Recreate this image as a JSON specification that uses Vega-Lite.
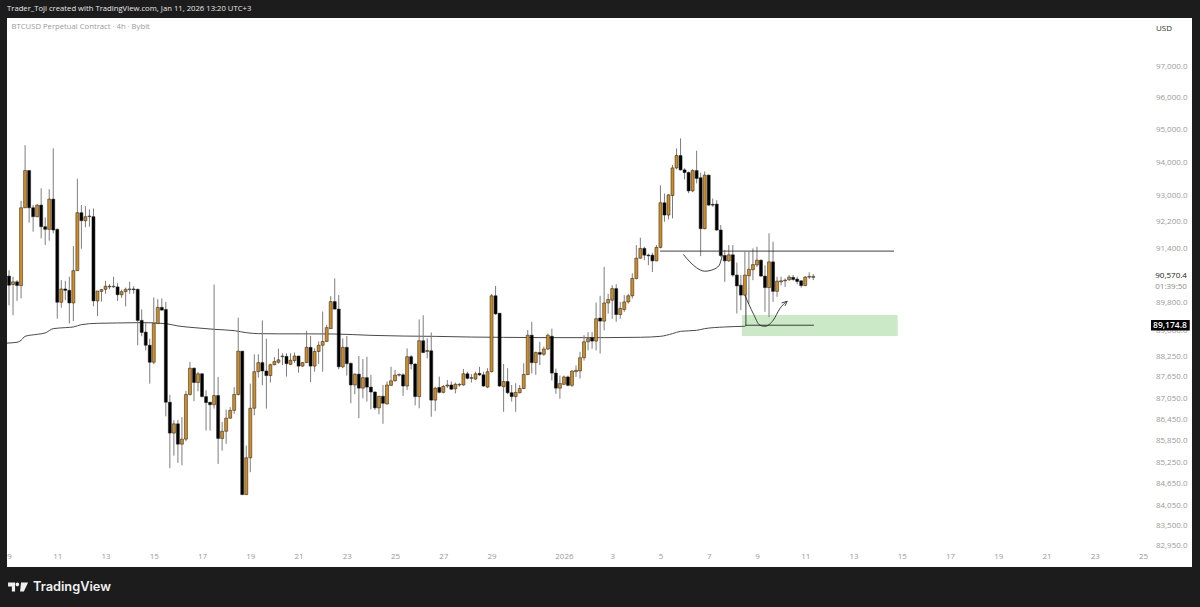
{
"$schema":"https://vega.github.io/schema/vega-lite/v6.json",
"autosize":{"type":"none"},
"width":1185,"height":549,
"padding":{"left":7,"top":18,"right":8,"bottom":40},
"background":"#1c1c1c",
"view":{"fill":"#ffffff","stroke":null},
"datasets":{
"candles":[
{"t":"2025-12-09T00:00Z","o":90580,"h":90750,"l":89720,"c":90310},
{"t":"2025-12-09T04:00Z","o":90330,"h":90560,"l":89430,"c":90410},
{"t":"2025-12-09T08:00Z","o":90410,"h":90460,"l":89850,"c":90300},
{"t":"2025-12-09T12:00Z","o":90300,"h":92830,"l":89920,"c":92620},
{"t":"2025-12-09T16:00Z","o":92620,"h":94530,"l":92620,"c":93750},
{"t":"2025-12-09T20:00Z","o":93750,"h":93770,"l":92170,"c":92620},
{"t":"2025-12-10T00:00Z","o":92620,"h":92700,"l":91900,"c":92350},
{"t":"2025-12-10T04:00Z","o":92350,"h":92730,"l":92330,"c":92700},
{"t":"2025-12-10T08:00Z","o":92700,"h":93210,"l":91700,"c":92050},
{"t":"2025-12-10T12:00Z","o":92050,"h":92330,"l":91500,"c":91970},
{"t":"2025-12-10T16:00Z","o":91970,"h":93180,"l":91630,"c":92880},
{"t":"2025-12-10T20:00Z","o":92880,"h":94430,"l":91850,"c":91950},
{"t":"2025-12-11T00:00Z","o":91970,"h":92000,"l":89330,"c":89810},
{"t":"2025-12-11T04:00Z","o":89810,"h":90460,"l":89650,"c":90200},
{"t":"2025-12-11T08:00Z","o":90200,"h":90440,"l":89870,"c":90160},
{"t":"2025-12-11T12:00Z","o":90160,"h":90560,"l":89190,"c":89790},
{"t":"2025-12-11T16:00Z","o":89790,"h":91470,"l":89260,"c":90740},
{"t":"2025-12-11T20:00Z","o":90740,"h":93500,"l":90740,"c":92470},
{"t":"2025-12-12T00:00Z","o":92470,"h":92700,"l":91390,"c":92230},
{"t":"2025-12-12T04:00Z","o":92230,"h":92670,"l":92030,"c":92350},
{"t":"2025-12-12T08:00Z","o":92350,"h":92570,"l":92050,"c":92370},
{"t":"2025-12-12T12:00Z","o":92350,"h":92600,"l":89690,"c":89850},
{"t":"2025-12-12T16:00Z","o":89850,"h":90140,"l":89410,"c":90140},
{"t":"2025-12-12T20:00Z","o":90130,"h":90200,"l":89830,"c":90180},
{"t":"2025-12-13T00:00Z","o":90190,"h":90440,"l":90060,"c":90280},
{"t":"2025-12-13T04:00Z","o":90260,"h":90340,"l":90190,"c":90280},
{"t":"2025-12-13T08:00Z","o":90260,"h":90560,"l":90240,"c":90280},
{"t":"2025-12-13T12:00Z","o":90260,"h":90380,"l":89850,"c":90030},
{"t":"2025-12-13T16:00Z","o":90030,"h":90180,"l":89940,"c":90120},
{"t":"2025-12-13T20:00Z","o":90120,"h":90240,"l":89690,"c":90190},
{"t":"2025-12-14T00:00Z","o":90180,"h":90410,"l":90060,"c":90200},
{"t":"2025-12-14T04:00Z","o":90200,"h":90280,"l":90060,"c":90180},
{"t":"2025-12-14T08:00Z","o":90190,"h":90210,"l":88560,"c":89280},
{"t":"2025-12-14T12:00Z","o":89280,"h":89600,"l":88820,"c":88930},
{"t":"2025-12-14T16:00Z","o":88940,"h":89240,"l":88410,"c":88560},
{"t":"2025-12-14T20:00Z","o":88560,"h":88750,"l":87460,"c":88070},
{"t":"2025-12-15T00:00Z","o":88070,"h":89950,"l":88010,"c":89190},
{"t":"2025-12-15T04:00Z","o":89190,"h":89900,"l":89170,"c":89660},
{"t":"2025-12-15T08:00Z","o":89660,"h":89920,"l":89560,"c":89580},
{"t":"2025-12-15T12:00Z","o":89600,"h":89820,"l":86530,"c":86930},
{"t":"2025-12-15T16:00Z","o":86930,"h":87140,"l":85080,"c":86060},
{"t":"2025-12-15T20:00Z","o":86060,"h":86420,"l":85430,"c":86320},
{"t":"2025-12-16T00:00Z","o":86320,"h":86430,"l":85230,"c":85750},
{"t":"2025-12-16T04:00Z","o":85750,"h":86510,"l":85160,"c":85890},
{"t":"2025-12-16T08:00Z","o":85890,"h":87250,"l":85830,"c":87150},
{"t":"2025-12-16T12:00Z","o":87150,"h":88080,"l":87120,"c":87900},
{"t":"2025-12-16T16:00Z","o":87900,"h":87920,"l":86960,"c":87490},
{"t":"2025-12-16T20:00Z","o":87490,"h":87790,"l":87240,"c":87740},
{"t":"2025-12-17T00:00Z","o":87740,"h":87760,"l":87070,"c":87090},
{"t":"2025-12-17T04:00Z","o":87090,"h":87270,"l":86130,"c":86920},
{"t":"2025-12-17T08:00Z","o":86930,"h":86930,"l":86130,"c":86860},
{"t":"2025-12-17T12:00Z","o":86860,"h":90330,"l":86750,"c":87120},
{"t":"2025-12-17T16:00Z","o":87120,"h":87650,"l":85200,"c":85910},
{"t":"2025-12-17T20:00Z","o":85910,"h":86370,"l":85570,"c":86110},
{"t":"2025-12-18T00:00Z","o":86110,"h":86720,"l":85760,"c":86480},
{"t":"2025-12-18T04:00Z","o":86480,"h":86790,"l":86460,"c":86700},
{"t":"2025-12-18T08:00Z","o":86700,"h":87360,"l":86600,"c":87150},
{"t":"2025-12-18T12:00Z","o":87150,"h":89360,"l":87120,"c":88390},
{"t":"2025-12-18T16:00Z","o":88390,"h":88390,"l":84350,"c":84350},
{"t":"2025-12-18T20:00Z","o":84350,"h":85710,"l":84350,"c":85370},
{"t":"2025-12-19T00:00Z","o":85370,"h":87460,"l":84970,"c":86760},
{"t":"2025-12-19T04:00Z","o":86760,"h":88300,"l":86560,"c":87800},
{"t":"2025-12-19T08:00Z","o":87800,"h":88300,"l":87630,"c":88060},
{"t":"2025-12-19T12:00Z","o":88060,"h":89280,"l":87410,"c":87820},
{"t":"2025-12-19T16:00Z","o":87820,"h":88750,"l":86750,"c":87690},
{"t":"2025-12-19T20:00Z","o":87690,"h":88030,"l":87490,"c":88000},
{"t":"2025-12-20T00:00Z","o":88000,"h":88220,"l":87980,"c":88090},
{"t":"2025-12-20T04:00Z","o":88070,"h":88460,"l":88030,"c":88140},
{"t":"2025-12-20T08:00Z","o":88230,"h":88330,"l":87990,"c":88250},
{"t":"2025-12-20T12:00Z","o":88240,"h":88330,"l":87660,"c":88030},
{"t":"2025-12-20T16:00Z","o":88010,"h":88330,"l":87990,"c":88130},
{"t":"2025-12-20T20:00Z","o":88120,"h":88350,"l":88050,"c":88250},
{"t":"2025-12-21T00:00Z","o":88250,"h":88250,"l":87770,"c":87960},
{"t":"2025-12-21T04:00Z","o":87960,"h":88080,"l":87940,"c":88060},
{"t":"2025-12-21T08:00Z","o":88060,"h":88980,"l":88060,"c":88500},
{"t":"2025-12-21T12:00Z","o":88500,"h":88830,"l":87500,"c":87960},
{"t":"2025-12-21T16:00Z","o":87960,"h":88470,"l":87800,"c":88380},
{"t":"2025-12-21T20:00Z","o":88380,"h":88670,"l":88020,"c":88560},
{"t":"2025-12-22T00:00Z","o":88560,"h":89540,"l":87800,"c":88670},
{"t":"2025-12-22T04:00Z","o":88670,"h":89150,"l":88650,"c":89070},
{"t":"2025-12-22T08:00Z","o":89040,"h":89990,"l":89040,"c":89830},
{"t":"2025-12-22T12:00Z","o":89830,"h":90510,"l":89600,"c":89610},
{"t":"2025-12-22T16:00Z","o":89610,"h":90020,"l":87870,"c":87940},
{"t":"2025-12-22T20:00Z","o":87940,"h":88760,"l":87900,"c":88500},
{"t":"2025-12-23T00:00Z","o":88500,"h":88830,"l":87690,"c":88030},
{"t":"2025-12-23T04:00Z","o":88040,"h":88060,"l":86900,"c":87420},
{"t":"2025-12-23T08:00Z","o":87420,"h":87750,"l":87160,"c":87730},
{"t":"2025-12-23T12:00Z","o":87730,"h":88250,"l":86480,"c":87330},
{"t":"2025-12-23T16:00Z","o":87330,"h":88160,"l":87040,"c":87630},
{"t":"2025-12-23T20:00Z","o":87630,"h":88230,"l":86950,"c":87360},
{"t":"2025-12-24T00:00Z","o":87360,"h":87710,"l":86730,"c":87220},
{"t":"2025-12-24T04:00Z","o":87220,"h":87240,"l":86710,"c":86770},
{"t":"2025-12-24T08:00Z","o":86770,"h":87110,"l":86590,"c":87100},
{"t":"2025-12-24T12:00Z","o":87100,"h":87420,"l":86320,"c":86900},
{"t":"2025-12-24T16:00Z","o":86880,"h":87520,"l":86870,"c":87420},
{"t":"2025-12-24T20:00Z","o":87410,"h":87940,"l":87390,"c":87540},
{"t":"2025-12-25T00:00Z","o":87540,"h":87850,"l":87520,"c":87700},
{"t":"2025-12-25T04:00Z","o":87700,"h":87750,"l":87660,"c":87720},
{"t":"2025-12-25T08:00Z","o":87710,"h":87750,"l":87110,"c":87390},
{"t":"2025-12-25T12:00Z","o":87390,"h":88470,"l":87280,"c":88230},
{"t":"2025-12-25T16:00Z","o":88230,"h":88280,"l":87870,"c":88020},
{"t":"2025-12-25T20:00Z","o":88020,"h":88040,"l":86840,"c":87090},
{"t":"2025-12-26T00:00Z","o":87090,"h":89310,"l":86760,"c":88690},
{"t":"2025-12-26T04:00Z","o":88690,"h":89430,"l":88330,"c":88350},
{"t":"2025-12-26T08:00Z","o":88380,"h":88760,"l":88180,"c":88410},
{"t":"2025-12-26T12:00Z","o":88400,"h":88930,"l":86520,"c":86990},
{"t":"2025-12-26T16:00Z","o":86990,"h":87370,"l":86680,"c":87330},
{"t":"2025-12-26T20:00Z","o":87350,"h":87660,"l":87180,"c":87210},
{"t":"2025-12-27T00:00Z","o":87210,"h":87420,"l":87180,"c":87380},
{"t":"2025-12-27T04:00Z","o":87390,"h":87560,"l":87330,"c":87420},
{"t":"2025-12-27T08:00Z","o":87420,"h":87520,"l":87280,"c":87300},
{"t":"2025-12-27T12:00Z","o":87310,"h":87490,"l":87180,"c":87440},
{"t":"2025-12-27T16:00Z","o":87420,"h":87470,"l":87370,"c":87440},
{"t":"2025-12-27T20:00Z","o":87420,"h":87880,"l":87400,"c":87740},
{"t":"2025-12-28T00:00Z","o":87740,"h":87800,"l":87580,"c":87610},
{"t":"2025-12-28T04:00Z","o":87610,"h":87730,"l":87490,"c":87630},
{"t":"2025-12-28T08:00Z","o":87590,"h":87800,"l":87560,"c":87740},
{"t":"2025-12-28T12:00Z","o":87750,"h":87940,"l":87680,"c":87710},
{"t":"2025-12-28T16:00Z","o":87710,"h":87800,"l":87370,"c":87390},
{"t":"2025-12-28T20:00Z","o":87360,"h":87900,"l":87330,"c":87800},
{"t":"2025-12-29T00:00Z","o":87800,"h":90050,"l":87780,"c":90000},
{"t":"2025-12-29T04:00Z","o":90000,"h":90290,"l":89440,"c":89470},
{"t":"2025-12-29T08:00Z","o":89490,"h":89490,"l":87370,"c":87390},
{"t":"2025-12-29T12:00Z","o":87370,"h":88020,"l":86660,"c":87520},
{"t":"2025-12-29T16:00Z","o":87520,"h":87900,"l":87160,"c":87200},
{"t":"2025-12-29T20:00Z","o":87200,"h":87420,"l":86950,"c":87090},
{"t":"2025-12-30T00:00Z","o":87090,"h":87470,"l":86660,"c":87210},
{"t":"2025-12-30T04:00Z","o":87200,"h":87420,"l":87180,"c":87320},
{"t":"2025-12-30T08:00Z","o":87320,"h":88040,"l":87300,"c":87720},
{"t":"2025-12-30T12:00Z","o":87720,"h":89000,"l":87700,"c":88850},
{"t":"2025-12-30T16:00Z","o":88850,"h":89240,"l":87750,"c":88060},
{"t":"2025-12-30T20:00Z","o":88060,"h":88380,"l":87710,"c":88350},
{"t":"2025-12-31T00:00Z","o":88350,"h":88660,"l":87990,"c":88300},
{"t":"2025-12-31T04:00Z","o":88300,"h":88520,"l":88250,"c":88450},
{"t":"2025-12-31T08:00Z","o":88450,"h":88900,"l":88420,"c":88850},
{"t":"2025-12-31T12:00Z","o":88820,"h":89040,"l":87550,"c":87760},
{"t":"2025-12-31T16:00Z","o":87760,"h":87890,"l":87170,"c":87330},
{"t":"2025-12-31T20:00Z","o":87330,"h":87690,"l":87030,"c":87460},
{"t":"2026-01-01T00:00Z","o":87440,"h":87690,"l":87410,"c":87650},
{"t":"2026-01-01T04:00Z","o":87650,"h":87690,"l":87380,"c":87410},
{"t":"2026-01-01T08:00Z","o":87410,"h":87840,"l":87360,"c":87820},
{"t":"2026-01-01T12:00Z","o":87800,"h":87980,"l":87650,"c":87840},
{"t":"2026-01-01T16:00Z","o":87820,"h":88370,"l":87600,"c":88200},
{"t":"2026-01-01T20:00Z","o":88200,"h":88850,"l":88120,"c":88660},
{"t":"2026-01-02T00:00Z","o":88660,"h":88940,"l":88410,"c":88750},
{"t":"2026-01-02T04:00Z","o":88780,"h":88940,"l":88460,"c":88680},
{"t":"2026-01-02T08:00Z","o":88680,"h":89800,"l":88410,"c":89330},
{"t":"2026-01-02T12:00Z","o":89350,"h":90000,"l":88320,"c":89260},
{"t":"2026-01-02T16:00Z","o":89260,"h":90850,"l":88990,"c":89790},
{"t":"2026-01-02T20:00Z","o":89790,"h":90060,"l":89480,"c":89890},
{"t":"2026-01-03T00:00Z","o":89870,"h":90310,"l":89330,"c":90210},
{"t":"2026-01-03T04:00Z","o":90210,"h":90340,"l":89240,"c":89450},
{"t":"2026-01-03T08:00Z","o":89450,"h":89820,"l":89330,"c":89630},
{"t":"2026-01-03T12:00Z","o":89600,"h":90020,"l":89530,"c":89820},
{"t":"2026-01-03T16:00Z","o":89820,"h":90060,"l":89770,"c":90000},
{"t":"2026-01-03T20:00Z","o":90000,"h":90660,"l":89920,"c":90510},
{"t":"2026-01-04T00:00Z","o":90510,"h":91500,"l":90480,"c":91110},
{"t":"2026-01-04T04:00Z","o":91110,"h":91720,"l":91090,"c":91400},
{"t":"2026-01-04T08:00Z","o":91400,"h":91450,"l":91050,"c":91200},
{"t":"2026-01-04T12:00Z","o":91200,"h":91250,"l":90900,"c":91180},
{"t":"2026-01-04T16:00Z","o":91200,"h":91270,"l":90700,"c":91030},
{"t":"2026-01-04T20:00Z","o":91030,"h":91500,"l":91020,"c":91430},
{"t":"2026-01-05T00:00Z","o":91430,"h":93300,"l":91400,"c":92770},
{"t":"2026-01-05T04:00Z","o":92770,"h":93050,"l":92200,"c":92400},
{"t":"2026-01-05T08:00Z","o":92400,"h":93030,"l":92270,"c":93010},
{"t":"2026-01-05T12:00Z","o":92990,"h":93920,"l":92300,"c":93830},
{"t":"2026-01-05T16:00Z","o":93830,"h":94430,"l":93790,"c":94210},
{"t":"2026-01-05T20:00Z","o":94210,"h":94740,"l":93750,"c":93770},
{"t":"2026-01-06T00:00Z","o":93770,"h":93820,"l":93480,"c":93690},
{"t":"2026-01-06T04:00Z","o":93690,"h":93720,"l":93060,"c":93130},
{"t":"2026-01-06T08:00Z","o":93130,"h":93790,"l":93090,"c":93750},
{"t":"2026-01-06T12:00Z","o":93750,"h":94360,"l":93360,"c":93510},
{"t":"2026-01-06T16:00Z","o":93530,"h":93680,"l":91170,"c":91990},
{"t":"2026-01-06T20:00Z","o":91990,"h":93720,"l":91970,"c":93610},
{"t":"2026-01-07T00:00Z","o":93610,"h":93630,"l":92670,"c":92700},
{"t":"2026-01-07T04:00Z","o":92720,"h":92900,"l":92650,"c":92700},
{"t":"2026-01-07T08:00Z","o":92730,"h":92850,"l":91920,"c":91950},
{"t":"2026-01-07T12:00Z","o":91950,"h":92100,"l":91150,"c":91190},
{"t":"2026-01-07T16:00Z","o":91190,"h":91350,"l":90410,"c":91030},
{"t":"2026-01-07T20:00Z","o":91030,"h":91500,"l":91000,"c":91210},
{"t":"2026-01-08T00:00Z","o":91210,"h":91500,"l":90560,"c":90610},
{"t":"2026-01-08T04:00Z","o":90610,"h":90980,"l":89480,"c":90290},
{"t":"2026-01-08T08:00Z","o":90310,"h":90610,"l":89580,"c":90020},
{"t":"2026-01-08T12:00Z","o":90020,"h":91300,"l":90000,"c":90610},
{"t":"2026-01-08T16:00Z","o":90590,"h":91300,"l":89770,"c":90780},
{"t":"2026-01-08T20:00Z","o":90770,"h":91400,"l":90460,"c":90920},
{"t":"2026-01-09T00:00Z","o":90910,"h":91450,"l":90850,"c":91050},
{"t":"2026-01-09T04:00Z","o":91050,"h":91070,"l":90560,"c":90580},
{"t":"2026-01-09T08:00Z","o":90580,"h":90900,"l":89530,"c":90240},
{"t":"2026-01-09T12:00Z","o":90240,"h":91850,"l":89380,"c":91000},
{"t":"2026-01-09T16:00Z","o":91000,"h":91600,"l":89820,"c":90130},
{"t":"2026-01-09T20:00Z","o":90130,"h":90560,"l":89970,"c":90430},
{"t":"2026-01-10T00:00Z","o":90410,"h":90560,"l":90310,"c":90440},
{"t":"2026-01-10T04:00Z","o":90440,"h":90510,"l":90260,"c":90460},
{"t":"2026-01-10T08:00Z","o":90470,"h":90610,"l":90440,"c":90550},
{"t":"2026-01-10T12:00Z","o":90540,"h":90610,"l":90440,"c":90480},
{"t":"2026-01-10T16:00Z","o":90490,"h":90560,"l":90340,"c":90420},
{"t":"2026-01-10T20:00Z","o":90440,"h":90460,"l":90240,"c":90300},
{"t":"2026-01-11T00:00Z","o":90300,"h":90580,"l":90280,"c":90550},
{"t":"2026-01-11T04:00Z","o":90550,"h":90690,"l":90490,"c":90570},
{"t":"2026-01-11T08:00Z","o":90540,"h":90640,"l":90460,"c":90570}
],
"ma":[
{"t":"2025-12-08T20:00Z","p":88620},{"t":"2025-12-09T08:00Z","p":88645},{"t":"2025-12-09T12:00Z","p":88703},{"t":"2025-12-09T16:00Z","p":88818},
{"t":"2025-12-10T04:00Z","p":88876},{"t":"2025-12-10T12:00Z","p":88915},{"t":"2025-12-10T20:00Z","p":89041},{"t":"2025-12-11T08:00Z","p":89070},
{"t":"2025-12-11T16:00Z","p":89089},{"t":"2025-12-12T00:00Z","p":89157},{"t":"2025-12-12T16:00Z","p":89196},{"t":"2025-12-13T12:00Z","p":89206},
{"t":"2025-12-14T12:00Z","p":89216},{"t":"2025-12-15T12:00Z","p":89186},{"t":"2025-12-16T00:00Z","p":89119},{"t":"2025-12-16T16:00Z","p":89070},
{"t":"2025-12-17T12:00Z","p":89021},{"t":"2025-12-18T08:00Z","p":88982},{"t":"2025-12-18T20:00Z","p":88924},{"t":"2025-12-19T08:00Z","p":88895},
{"t":"2025-12-20T04:00Z","p":88890},{"t":"2025-12-21T04:00Z","p":88890},{"t":"2025-12-22T12:00Z","p":88885},{"t":"2025-12-24T00:00Z","p":88846},
{"t":"2025-12-25T08:00Z","p":88826},{"t":"2025-12-26T16:00Z","p":88817},{"t":"2025-12-28T04:00Z","p":88797},{"t":"2025-12-29T12:00Z","p":88788},
{"t":"2025-12-31T08:00Z","p":88780},{"t":"2026-01-02T16:00Z","p":88780},{"t":"2026-01-04T04:00Z","p":88790},{"t":"2026-01-05T00:00Z","p":88818},
{"t":"2026-01-05T12:00Z","p":88896},{"t":"2026-01-05T20:00Z","p":88963},{"t":"2026-01-06T12:00Z","p":88992},{"t":"2026-01-06T20:00Z","p":89041},
{"t":"2026-01-07T16:00Z","p":89089},{"t":"2026-01-08T12:00Z","p":89109}
],
"straight":[
{"id":"resistance","k":1,"t":"2026-01-04T23:30Z","p":91320},{"id":"resistance","k":2,"t":"2026-01-14T16:20Z","p":91320},
{"id":"support","k":1,"t":"2026-01-08T12:40Z","p":89140},{"id":"support","k":2,"t":"2026-01-11T08:40Z","p":89140},
{"id":"drop","k":1,"t":"2026-01-08T13:00Z","p":90015},{"id":"drop","k":2,"t":"2026-01-08T13:00Z","p":89110},
{"id":"head","k":1,"t":"2026-01-10T00:30Z","p":89791},{"id":"head","k":2,"t":"2026-01-10T06:10Z","p":89840},{"id":"head","k":3,"t":"2026-01-10T03:50Z","p":89703}
],
"curves":[
{"id":"cup","t":"2026-01-05T22:50Z","p":91220},{"id":"cup","t":"2026-01-06T05:20Z","p":91000},{"id":"cup","t":"2026-01-06T12:00Z","p":90823},
{"id":"cup","t":"2026-01-06T20:10Z","p":90724},{"id":"cup","t":"2026-01-07T04:30Z","p":90774},{"id":"cup","t":"2026-01-07T10:30Z","p":90902},{"id":"cup","t":"2026-01-07T13:30Z","p":91200},
{"id":"path","t":"2026-01-08T12:00Z","p":90015},{"id":"path","t":"2026-01-08T20:20Z","p":89479},{"id":"path","t":"2026-01-09T03:00Z","p":89138},
{"id":"path","t":"2026-01-09T08:00Z","p":89109},{"id":"path","t":"2026-01-09T16:10Z","p":89284},{"id":"path","t":"2026-01-09T22:50Z","p":89625},{"id":"path","t":"2026-01-10T04:50Z","p":89820}
]
},
"encoding":{
"x":{"field":"t","type":"temporal","title":null,
 "scale":{"type":"utc","padding":0,"domain":[1765231200000,1769474700000]},
 "axis":{"orient":"bottom","offset":-15,"domain":false,"ticks":false,"grid":false,"labelPadding":0,"labelBaseline":"top","labelColor":"#9a9a9a","labelFont":"Open Sans","labelFontSize":8,"labelOverlap":false,"labelFlush":false,"labelBound":false,
 "values":[1765238400000,1765411200000,1765584000000,1765756800000,1765929600000,1766102400000,1766275200000,1766448000000,1766620800000,1766793600000,1766966400000,1767225600000,1767398400000,1767571200000,1767744000000,1767916800000,1768089600000,1768262400000,1768435200000,1768608000000,1768780800000,1768953600000,1769126400000,1769299200000],
 "labelExpr":"utcdate(datum.value)==1 ? '2026' : ''+utcdate(datum.value)"}}
},
"layer":[
{"data":{"values":[{"t":"2026-01-08T09:00Z","t2":"2026-01-14T20:00Z","p":89440,"p2":88828}],"format":{"parse":{"t":"date","t2":"date"}}},
 "mark":{"type":"rect","fill":"#cbe8c7"},
 "encoding":{"x2":{"field":"t2"},
  "y":{"field":"p","type":"quantitative","title":null,
   "scale":{"type":"log","domain":[82384,98530],"nice":false,"zero":false},
   "axis":{"orient":"right","offset":-5,"domain":false,"ticks":false,"grid":false,"labelPadding":0,"labelAlign":"right","labelBaseline":"middle","labelColor":"#9a9a9a","labelFont":"Open Sans","labelFontSize":8,"labelOverlap":false,"labelFlush":false,"labelBound":false,"format":",.1f",
    "values":[97000,96000,95000,94000,93000,92200,91400,89800,89000,88250,87650,87050,86450,85850,85250,84650,84050,83500,82950]}},
  "y2":{"field":"p2"}}},
{"data":{"name":"ma"},"mark":{"type":"line","clip":true,"interpolate":"monotone","color":"#4a4a4a","strokeWidth":1},
 "encoding":{"y":{"field":"p","type":"quantitative"}}},
{"data":{"name":"candles"},"mark":{"type":"rule","color":"#7d7d7d","strokeWidth":1},
 "encoding":{"y":{"field":"l","type":"quantitative"},"y2":{"field":"h"}}},
{"data":{"name":"candles"},"mark":{"type":"bar","size":3,"stroke":"#1a1a1a","strokeWidth":0.5},
 "encoding":{"y":{"field":"o","type":"quantitative"},"y2":{"field":"c"},
  "fill":{"condition":{"test":"datum.c>=datum.o","value":"#d08c24"},"value":"#000000"}}},
{"data":{"name":"straight"},"mark":{"type":"line","color":"#2a2a2a","strokeWidth":0.9},
 "encoding":{"y":{"field":"p","type":"quantitative"},"detail":{"field":"id"},"order":{"field":"k"}}},
{"data":{"name":"curves"},"mark":{"type":"line","interpolate":"monotone","color":"#2a2a2a","strokeWidth":0.9},
 "encoding":{"y":{"field":"p","type":"quantitative"},"detail":{"field":"id"}}},
{"data":{"values":[{"t":"2026-01-25T08:00Z","t2":"2026-01-26T22:30Z","p":89290,"p2":88990}],"format":{"parse":{"t":"date","t2":"date"}}},
 "mark":{"type":"rect","fill":"#000000"},
 "encoding":{"x2":{"field":"t2"},"y":{"field":"p","type":"quantitative"},"y2":{"field":"p2"}}},
{"data":{"values":[{"t":"2026-01-26T19:40Z","p":89140,"s":"89,174.8"}]},"mark":{"type":"text","align":"right","baseline":"middle","color":"#ffffff","font":"Open Sans","fontSize":8.5,"fontWeight":600},
 "encoding":{"y":{"field":"p","type":"quantitative"},"text":{"field":"s"}}},
{"data":{"values":[{"t":"2026-01-26T19:40Z","p":90570,"s":"90,570.4"}]},"mark":{"type":"text","align":"right","baseline":"middle","color":"#222222","font":"Open Sans","fontSize":8},
 "encoding":{"y":{"field":"p","type":"quantitative"},"text":{"field":"s"}}},
{"data":{"values":[{"t":"2026-01-26T19:40Z","p":90266,"s":"01:39:50"}]},"mark":{"type":"text","align":"right","baseline":"middle","color":"#8a8a8a","font":"Open Sans","fontSize":8},
 "encoding":{"y":{"field":"p","type":"quantitative"},"text":{"field":"s"}}},
{"data":{"values":[{"t":"2026-01-26T04:50Z","p":98177,"s":"USD"}]},"mark":{"type":"text","align":"right","baseline":"middle","color":"#333333","font":"Open Sans","fontSize":8},
 "encoding":{"y":{"field":"p","type":"quantitative"},"text":{"field":"s"}}},
{"data":{"values":[{"t":"2025-12-09T02:30Z","p":98241,"s":"BTCUSD Perpetual Contract · 4h · Bybit"}]},"mark":{"type":"text","align":"left","baseline":"middle","color":"#9a9a9a","font":"Open Sans","fontSize":7.7},
 "encoding":{"y":{"field":"p","type":"quantitative"},"text":{"field":"s"}}},
{"data":{"values":[{"t":"2025-12-08T22:00Z","p":98804,"s":"Trader_Toji created with TradingView.com, Jan 11, 2026 13:20 UTC+3"}]},"mark":{"type":"text","align":"left","baseline":"middle","color":"#e6e6e6","font":"Open Sans","fontSize":7.7},
 "encoding":{"y":{"field":"p","type":"quantitative"},"text":{"field":"s"}}},
{"data":{"values":[{"t":"2025-12-09T23:50Z","p":81851,"s":"TradingView"}]},"mark":{"type":"text","align":"left","baseline":"middle","color":"#f0f0f0","font":"Inter","fontSize":12.8,"fontWeight":600},
 "encoding":{"y":{"field":"p","type":"quantitative"},"text":{"field":"s"}}},
{"data":{"values":[{"t":"2025-12-09T09:00Z","p":81851}]},"mark":{"type":"point","filled":true,"fill":"#f0f0f0","stroke":null,"opacity":1,"size":400,
  "shape":"M-1 -0.45 H-0.3 V0.45 H-0.62 V-0.05 H-1 Z M-0.25 -0.25 A0.18 0.18 0 1 1 0.11 -0.25 A0.18 0.18 0 1 1 -0.25 -0.25 Z M0.3 -0.45 H1 L0.58 0.45 H0.2 Z"},
 "encoding":{"y":{"field":"p","type":"quantitative"}}}
],
"config":{"style":{"cell":{"stroke":null}}}
}
